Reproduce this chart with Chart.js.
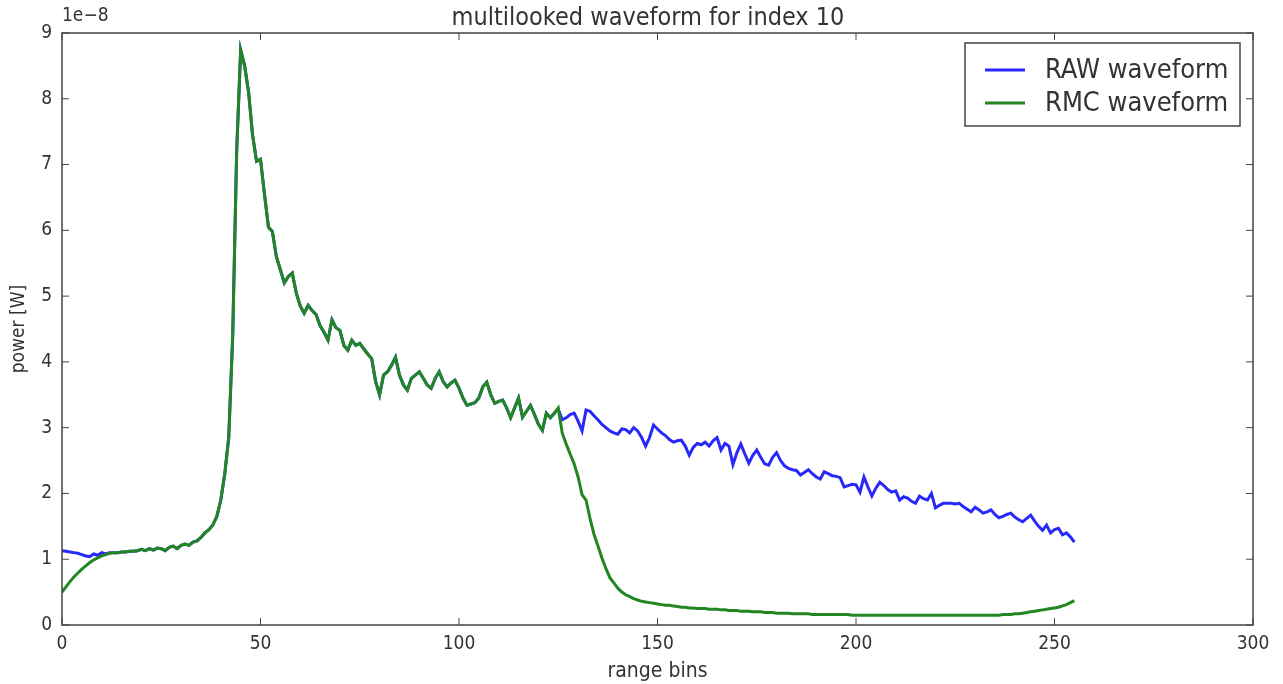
<!DOCTYPE html>
<html>
<head>
<meta charset="utf-8">
<script src="https://cdn.jsdelivr.net/npm/chart.js@4"></script>
<style>
  html, body { margin: 0; padding: 0; background: #fff; }
  #wrap { width: 1283px; height: 684px; }
</style>
</head>
<body>
<div id="wrap"><canvas id="waveChart" width="1283" height="684"></canvas></div>
<script>
// values are in units of 1e-8 W (the axis offset label)
const bins = Array.from({ length: 256 }, (_, i) => i);

const rawWaveform = [
  1.13, 1.12, 1.11, 1.10, 1.09, 1.07, 1.05, 1.04, 1.08, 1.06,
  1.10, 1.08, 1.10, 1.10, 1.10, 1.11, 1.11, 1.12, 1.12, 1.13,
  1.15, 1.13, 1.16, 1.14, 1.17, 1.16, 1.13, 1.18, 1.20, 1.16,
  1.21, 1.23, 1.21, 1.26, 1.28, 1.33, 1.40, 1.45, 1.52, 1.65,
  1.90, 2.30, 2.85, 4.40, 7.20, 8.74, 8.50, 8.10, 7.45, 7.05,
  7.08, 6.55, 6.05, 5.98, 5.60, 5.40, 5.20, 5.30, 5.35, 5.05,
  4.85, 4.74, 4.86, 4.78, 4.72, 4.55, 4.45, 4.33, 4.64, 4.52,
  4.48, 4.25, 4.18, 4.33, 4.25, 4.28, 4.20, 4.12, 4.05, 3.70,
  3.50, 3.80, 3.85, 3.95, 4.07, 3.80, 3.65, 3.57, 3.75, 3.80,
  3.85, 3.75, 3.65, 3.60, 3.75, 3.85, 3.70, 3.62, 3.68, 3.72,
  3.60, 3.45, 3.34, 3.36, 3.38, 3.45, 3.62, 3.69, 3.50, 3.37,
  3.40, 3.42, 3.30, 3.15, 3.30, 3.45, 3.16, 3.25, 3.34, 3.20,
  3.05, 2.96, 3.22, 3.15, 3.22, 3.28, 3.12, 3.15, 3.20, 3.22,
  3.10, 2.95, 3.27, 3.25, 3.18, 3.12, 3.05, 3.00, 2.95, 2.92,
  2.90, 2.98, 2.97, 2.92, 3.00, 2.95, 2.85, 2.72, 2.85, 3.04,
  2.98, 2.92, 2.88, 2.82, 2.78, 2.80, 2.81, 2.72, 2.58, 2.70,
  2.76, 2.74, 2.78, 2.72, 2.80, 2.85, 2.66, 2.76, 2.72, 2.44,
  2.62, 2.75, 2.60, 2.46, 2.58, 2.66, 2.55, 2.45, 2.43, 2.55,
  2.62, 2.50, 2.42, 2.38, 2.36, 2.35, 2.28, 2.32, 2.36, 2.30,
  2.25, 2.22, 2.33, 2.30, 2.27, 2.26, 2.24, 2.10, 2.12, 2.14,
  2.13, 2.02, 2.25, 2.10, 1.96, 2.08, 2.17, 2.12, 2.06, 2.02,
  2.04, 1.90, 1.95, 1.93, 1.88, 1.85, 1.96, 1.92, 1.90, 2.00,
  1.78, 1.82, 1.85, 1.85, 1.85, 1.84, 1.85, 1.80, 1.76, 1.72,
  1.79, 1.75, 1.70, 1.72, 1.75, 1.68, 1.63, 1.65, 1.68, 1.70,
  1.64, 1.60, 1.57, 1.62, 1.67, 1.58, 1.50, 1.44, 1.52, 1.40,
  1.45, 1.47, 1.37, 1.40, 1.34, 1.26
];

const rmcWaveform = [
  0.50, 0.58, 0.66, 0.73, 0.79, 0.85, 0.90, 0.95, 0.99, 1.02,
  1.05, 1.07, 1.09, 1.10, 1.10, 1.11, 1.11, 1.12, 1.12, 1.13,
  1.15, 1.13, 1.16, 1.14, 1.17, 1.16, 1.13, 1.18, 1.20, 1.16,
  1.21, 1.23, 1.21, 1.26, 1.28, 1.33, 1.40, 1.45, 1.52, 1.65,
  1.90, 2.30, 2.85, 4.40, 7.20, 8.74, 8.50, 8.10, 7.45, 7.05,
  7.08, 6.55, 6.05, 5.98, 5.60, 5.40, 5.20, 5.30, 5.35, 5.05,
  4.85, 4.74, 4.86, 4.78, 4.72, 4.55, 4.45, 4.33, 4.64, 4.52,
  4.48, 4.25, 4.18, 4.33, 4.25, 4.28, 4.20, 4.12, 4.05, 3.70,
  3.50, 3.80, 3.85, 3.95, 4.07, 3.80, 3.65, 3.57, 3.75, 3.80,
  3.85, 3.75, 3.65, 3.60, 3.75, 3.85, 3.70, 3.62, 3.68, 3.72,
  3.60, 3.45, 3.34, 3.36, 3.38, 3.45, 3.62, 3.69, 3.50, 3.37,
  3.40, 3.42, 3.30, 3.15, 3.30, 3.45, 3.16, 3.25, 3.34, 3.20,
  3.05, 2.96, 3.22, 3.15, 3.22, 3.30, 2.92, 2.75, 2.60, 2.45,
  2.25, 1.98, 1.90, 1.62, 1.38, 1.20, 1.02, 0.86, 0.72, 0.64,
  0.56, 0.50, 0.46, 0.43, 0.40, 0.38, 0.36, 0.35, 0.34, 0.33,
  0.32, 0.31, 0.30, 0.30, 0.29, 0.28, 0.27, 0.27, 0.26, 0.26,
  0.25, 0.25, 0.25, 0.24, 0.24, 0.24, 0.23, 0.23, 0.22, 0.22,
  0.22, 0.21, 0.21, 0.21, 0.20, 0.20, 0.20, 0.19, 0.19, 0.19,
  0.18, 0.18, 0.18, 0.18, 0.17, 0.17, 0.17, 0.17, 0.17, 0.16,
  0.16, 0.16, 0.16, 0.16, 0.16, 0.16, 0.16, 0.16, 0.16, 0.15,
  0.15, 0.15, 0.15, 0.15, 0.15, 0.15, 0.15, 0.15, 0.15, 0.15,
  0.15, 0.15, 0.15, 0.15, 0.15, 0.15, 0.15, 0.15, 0.15, 0.15,
  0.15, 0.15, 0.15, 0.15, 0.15, 0.15, 0.15, 0.15, 0.15, 0.15,
  0.15, 0.15, 0.15, 0.15, 0.15, 0.15, 0.15, 0.16, 0.16, 0.16,
  0.17, 0.17, 0.18, 0.19, 0.20, 0.21, 0.22, 0.23, 0.24, 0.25,
  0.26, 0.27, 0.29, 0.31, 0.34, 0.37
];

const xTicks = [0, 50, 100, 150, 200, 250, 300];
const yTicks = [0, 1, 2, 3, 4, 5, 6, 7, 8, 9];

const FONT = '"DejaVu Sans Condensed", "DejaVu Sans"';
const TEXT = '#333';

// frame, inward ticks, title, offset text and in-axes legend
const framePlugin = {
  id: 'frame',
  afterDraw(chart) {
    const { ctx, chartArea: a, scales } = chart;
    ctx.save();
    ctx.strokeStyle = '#444';
    ctx.lineWidth = 1.5;
    ctx.strokeRect(a.left, a.top, a.right - a.left, a.bottom - a.top);

    ctx.lineWidth = 1;
    ctx.beginPath();
    xTicks.forEach(t => {
      const px = scales.x.getPixelForValue(t);
      ctx.moveTo(px, a.bottom); ctx.lineTo(px, a.bottom - 7);
      ctx.moveTo(px, a.top); ctx.lineTo(px, a.top + 7);
    });
    yTicks.forEach(t => {
      const py = scales.y.getPixelForValue(t);
      ctx.moveTo(a.left, py); ctx.lineTo(a.left + 7, py);
      ctx.moveTo(a.right, py); ctx.lineTo(a.right - 7, py);
    });
    ctx.stroke();

    ctx.fillStyle = TEXT;
    ctx.font = '25px ' + FONT;
    ctx.textAlign = 'center';
    ctx.textBaseline = 'alphabetic';
    ctx.fillText('multilooked waveform for index 10', 648, 25);

    ctx.font = '19px ' + FONT;
    ctx.textAlign = 'left';
    ctx.fillText('1e\u22128', a.left, 21);

    // legend box
    const lx = 965, ly = 43, lw = 275, lh = 83;
    ctx.fillStyle = '#fff';
    ctx.fillRect(lx, ly, lw, lh);
    ctx.strokeStyle = '#444';
    ctx.lineWidth = 1.5;
    ctx.strokeRect(lx, ly, lw, lh);
    const rows = [chart.data.datasets[0], chart.data.datasets[1]];
    rows.forEach((ds, k) => {
      const yy = ly + 27 + k * 33;
      ctx.strokeStyle = ds.borderColor;
      ctx.lineWidth = 3;
      ctx.beginPath();
      ctx.moveTo(lx + 20, yy); ctx.lineTo(lx + 60, yy);
      ctx.stroke();
      ctx.fillStyle = TEXT;
      ctx.font = '27px ' + FONT;
      ctx.textBaseline = 'middle';
      ctx.fillText(ds.label, lx + 80, yy + 1);
    });
    ctx.restore();
  }
};

new Chart(document.getElementById('waveChart').getContext('2d'), {
  type: 'line',
  data: {
    datasets: [
      {
        label: 'RAW waveform',
        data: bins.map((b, i) => ({ x: b, y: rawWaveform[i] })),
        borderColor: 'rgb(40,40,250)',
        borderWidth: 3,
        pointRadius: 0,
        tension: 0,
        order: 2
      },
      {
        label: 'RMC waveform',
        data: bins.map((b, i) => ({ x: b, y: rmcWaveform[i] })),
        borderColor: 'rgb(34,134,34)',
        borderWidth: 3,
        pointRadius: 0,
        tension: 0,
        order: 1
      }
    ]
  },
  options: {
    responsive: false,
    animation: false,
    layout: { padding: { top: 33, right: 30, left: 0, bottom: 0 } },
    plugins: {
      legend: { display: false },
      title: { display: false },
      tooltip: { enabled: false }
    },
    scales: {
      x: {
        type: 'linear',
        min: 0, max: 300,
        afterBuildTicks: s => { s.ticks = xTicks.map(v => ({ value: v })); },
        afterFit: s => { s.height = 59; },
        grid: { display: false, drawTicks: false },
        border: { display: false },
        ticks: { padding: 8, color: TEXT, font: { family: FONT, size: 19 } },
        title: { display: true, text: 'range bins', color: TEXT, padding: { top: 2, bottom: 0 },
                 font: { family: FONT, size: 21 } }
      },
      y: {
        min: 0, max: 9,
        afterBuildTicks: s => { s.ticks = yTicks.map(v => ({ value: v })); },
        afterFit: s => { s.width = 62; },
        grid: { display: false, drawTicks: false },
        border: { display: false },
        ticks: { padding: 10, color: TEXT, font: { family: FONT, size: 19 } },
        title: { display: true, text: 'power [W]', color: TEXT, padding: { top: 8, bottom: 0 },
                 font: { family: FONT, size: 19 } }
      }
    }
  },
  plugins: [framePlugin]
});
</script>
</body>
</html>
